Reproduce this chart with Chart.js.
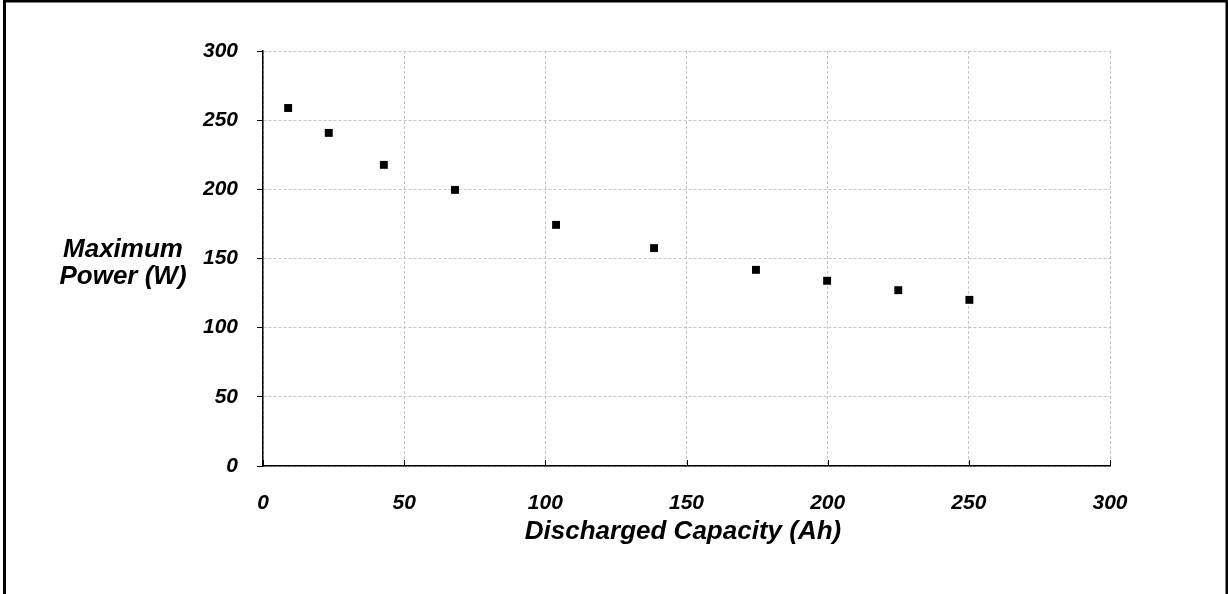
<!DOCTYPE html>
<html>
<head>
<meta charset="utf-8">
<script src="https://cdn.jsdelivr.net/npm/chart.js@4.4.1/dist/chart.umd.min.js"></script>
<style>
    html, body { margin: 0; padding: 0; background: #fff; }
    #wrap { position: relative; width: 1228px; height: 594px; }
</style>
</head>
<body>
<div id="wrap"><canvas id="chart" width="1228" height="594"></canvas></div>
<script>
// discharged capacity (Ah) vs maximum power (W)
const capacity = [8.9, 23.3, 42.8, 68.0, 103.8, 138.5, 174.6, 199.8, 225.0, 250.2];
const maxPower = [258.8, 240.8, 217.7, 199.6, 174.3, 157.5, 141.8, 133.9, 127.1, 120.1];

const xTitle = 'Discharged Capacity (Ah)';
const yTitle = ['Maximum', 'Power (W)'];

const fontFamily = '"Liberation Sans", Arial, sans-serif';
const gridColor = '#c4c4c4';

const decorations = {
    id: 'decorations',
    afterDraw(chart) {
        const { ctx, chartArea, scales } = chart;
        ctx.save();

        // x ticks point inward
        ctx.strokeStyle = '#000';
        ctx.lineWidth = 1;
        scales.x.ticks.forEach((tick) => {
            const px = Math.round(scales.x.getPixelForValue(tick.value)) + 0.5;
            ctx.beginPath();
            ctx.moveTo(px, chartArea.bottom);
            ctx.lineTo(px, chartArea.bottom - 6);
            ctx.stroke();
        });

        ctx.fillStyle = '#000';
        ctx.font = `italic bold 26px ${fontFamily}`;
        ctx.textAlign = 'center';
        ctx.textBaseline = 'middle';
        ctx.fillText(xTitle, 683, 532);
        ctx.fillText(yTitle[0], 123, 250);
        ctx.fillText(yTitle[1], 123, 277);

        // outer frame (no bottom edge)
        ctx.lineWidth = 3;
        ctx.beginPath();
        ctx.moveTo(4.5, 594);
        ctx.lineTo(4.5, 1);
        ctx.lineTo(1227, 1);
        ctx.lineTo(1227, 594);
        ctx.stroke();
        ctx.restore();
    },
};

new Chart(document.getElementById('chart').getContext('2d'), {
    type: 'scatter',
    data: {
        datasets: [{
            data: capacity.map((x, i) => ({ x, y: maxPower[i] })),
            pointStyle: 'rect',
            pointRadius: 5.6,
            pointBorderWidth: 0,
            backgroundColor: '#000',
            borderColor: '#000',
        }],
    },
    options: {
        responsive: false,
        animation: false,
        layout: {
            padding: { left: 0, top: 51, right: 118, bottom: 0 },
        },
        plugins: {
            legend: { display: false },
            tooltip: { enabled: false },
        },
        scales: {
            x: {
                type: 'linear',
                min: 0,
                max: 300,
                afterFit: (scale) => { scale.height = 128; },
                ticks: {
                    stepSize: 50,
                    color: '#000',
                    padding: 25,
                    maxRotation: 0,
                    font: { family: fontFamily, size: 21, style: 'italic', weight: 'bold' },
                },
                grid: {
                    color: gridColor,
                    drawTicks: false,
                },
                border: { display: true, color: '#000', width: 1.5, dash: [3, 2] },
            },
            y: {
                min: 0,
                max: 300,
                afterFit: (scale) => { scale.width = 263; },
                ticks: {
                    stepSize: 50,
                    color: '#000',
                    padding: 19,
                    font: { family: fontFamily, size: 21, style: 'italic', weight: 'bold' },
                },
                grid: {
                    color: gridColor,
                    tickColor: '#000',
                    tickLength: 6,
                    tickBorderDash: [],
                },
                border: { display: true, color: '#000', width: 1.5, dash: [3, 2] },
            },
        },
    },
    plugins: [decorations],
});
</script>
</body>
</html>
